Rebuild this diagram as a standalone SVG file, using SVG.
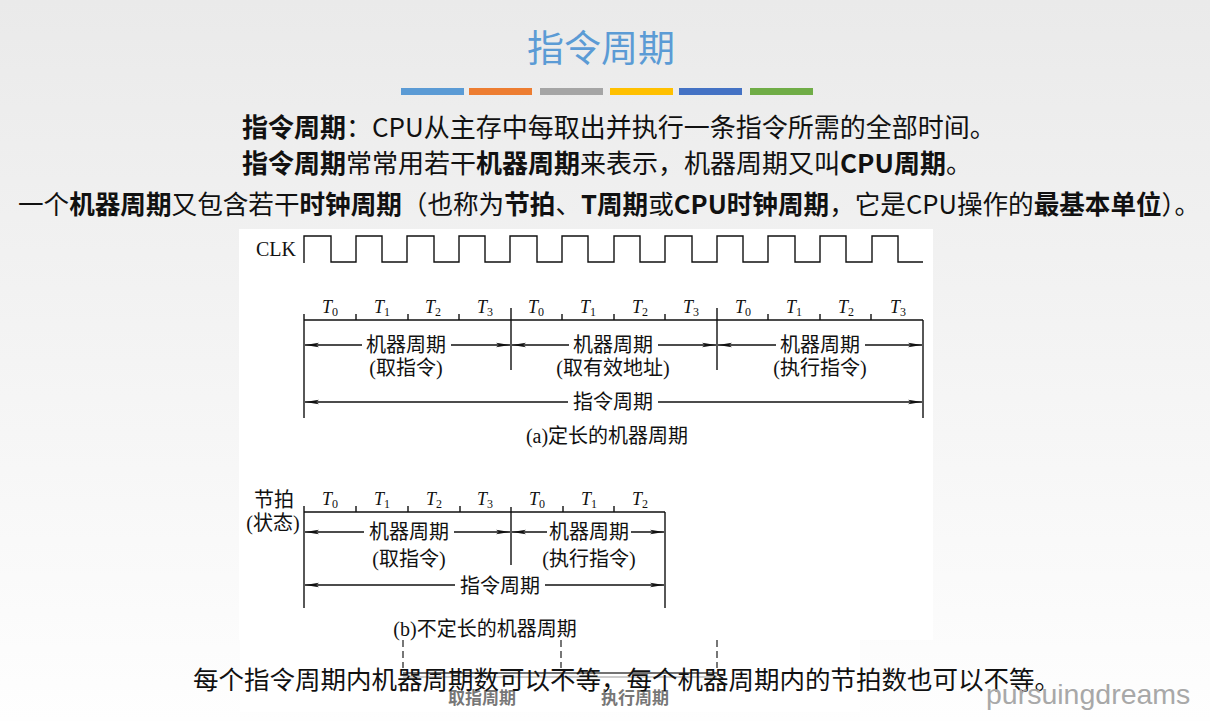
<svg xmlns="http://www.w3.org/2000/svg" width="1210" height="721" viewBox="0 0 1210 721">
<defs>
<linearGradient id="bg" x1="0" y1="0" x2="0" y2="1">
<stop offset="0" stop-color="#eaeaea"/>
<stop offset="1" stop-color="#fefefe"/>
</linearGradient>
<marker id="ah" viewBox="0 0 14 6" refX="14" refY="3" markerWidth="14" markerHeight="6" markerUnits="userSpaceOnUse" orient="auto">
<path d="M0,0.7 L14,3 L0,5.3 L3,3 z" fill="#111"/>
</marker>
<style>
.hd{font-family:"Noto Sans CJK SC","Noto Sans",sans-serif;font-size:26px;fill:#111}
.b{font-weight:bold}
.dg{font-family:"Liberation Serif","Noto Sans CJK SC",serif;font-size:20px;fill:#111}
.tl{font-family:"Liberation Serif",serif;font-size:18px;font-style:italic;fill:#111}
.sub{font-size:12px;font-style:normal}
.ln{stroke:#111;stroke-width:1.4;fill:none}
.ar{stroke:#111;stroke-width:1.3;fill:none;marker-end:url(#ah)}
.mid{text-anchor:middle}
</style>
</defs>
<rect width="1210" height="721" fill="url(#bg)"/>

<g id="title">
<text x="601" y="62" font-family="Noto Sans CJK SC, sans-serif" font-size="37" fill="#5b9bd5" text-anchor="middle">指令周期</text>
<rect x="401" y="88" width="63" height="7" fill="#5b9bd5"/>
<rect x="469" y="88" width="63" height="7" fill="#ed7d31"/>
<rect x="540" y="88" width="63" height="7" fill="#a5a5a5"/>
<rect x="610" y="88" width="63" height="7" fill="#ffc000"/>
<rect x="679" y="88" width="63" height="7" fill="#4472c4"/>
<rect x="750" y="88" width="63" height="7" fill="#70ad47"/>
</g>

<g id="intro">
<text class="hd" x="242" y="137"><tspan class="b">指令周期</tspan>：CPU从主存中每取出并执行一条指令所需的全部时间。</text>
<text class="hd" x="242" y="173"><tspan class="b">指令周期</tspan>常常用若干<tspan class="b">机器周期</tspan>来表示，机器周期又叫<tspan class="b">CPU周期</tspan>。</text>
<text class="hd" x="18" y="214" textLength="1182" lengthAdjust="spacingAndGlyphs">一个<tspan class="b">机器周期</tspan>又包含若干<tspan class="b">时钟周期</tspan>（也称为<tspan class="b">节拍</tspan>、<tspan class="b">T周期</tspan>或<tspan class="b">CPU时钟周期</tspan>，它是CPU操作的<tspan class="b">最基本单位</tspan>）。</text>
</g>

<rect x="239" y="229" width="694" height="411" fill="#ffffff"/>
<rect x="240" y="640" width="620" height="72" fill="#ffffff"/>

<g id="clk">
<text class="dg" x="256" y="256" font-size="18">CLK</text>
<path class="ln" stroke-width="2" d="M304,263 V236 H331 V262 H356 V236 H382 V262 H407 V236 H434 V262 H459 V236 H485 V262 H510 V236 H537 V262 H562 V236 H588 V262 H614 V236 H640 V262 H665 V236 H692 V262 H717 V236 H743 V262 H768 V236 H795 V262 H820 V236 H846 V262 H872 V236 H898 V262 H923"/>
</g>

<g id="fixed-cycle">
<g id="a-timeline">
<path class="ln" d="M304,320 H923 M304,314 V418 M923,320 V418 M511,308 V370 M717,308 V370 M356,314 V320 M408,314 V320 M459,314 V320 M562,314 V320 M614,314 V320 M665,314 V320 M768,314 V320 M820,314 V320 M871,314 V320"/>
<text class="tl mid" y="313"><tspan x="330">T</tspan><tspan class="sub" dy="3">0</tspan></text>
<text class="tl mid" y="313"><tspan x="382">T</tspan><tspan class="sub" dy="3">1</tspan></text>
<text class="tl mid" y="313"><tspan x="433">T</tspan><tspan class="sub" dy="3">2</tspan></text>
<text class="tl mid" y="313"><tspan x="485">T</tspan><tspan class="sub" dy="3">3</tspan></text>
<text class="tl mid" y="313"><tspan x="536">T</tspan><tspan class="sub" dy="3">0</tspan></text>
<text class="tl mid" y="313"><tspan x="588">T</tspan><tspan class="sub" dy="3">1</tspan></text>
<text class="tl mid" y="313"><tspan x="640">T</tspan><tspan class="sub" dy="3">2</tspan></text>
<text class="tl mid" y="313"><tspan x="691">T</tspan><tspan class="sub" dy="3">3</tspan></text>
<text class="tl mid" y="313"><tspan x="743">T</tspan><tspan class="sub" dy="3">0</tspan></text>
<text class="tl mid" y="313"><tspan x="794">T</tspan><tspan class="sub" dy="3">1</tspan></text>
<text class="tl mid" y="313"><tspan x="846">T</tspan><tspan class="sub" dy="3">2</tspan></text>
<text class="tl mid" y="313"><tspan x="898">T</tspan><tspan class="sub" dy="3">3</tspan></text>
</g>
<g id="a-mc1">
<text class="dg mid" x="406" y="352">机器周期</text>
<text class="dg mid" x="406" y="375">(取指令)</text>
</g>
<g id="a-mc2">
<text class="dg mid" x="613" y="352">机器周期</text>
<text class="dg mid" x="613" y="375">(取有效地址)</text>
</g>
<g id="a-mc3">
<text class="dg mid" x="820" y="352">机器周期</text>
<text class="dg mid" x="820" y="375">(执行指令)</text>
</g>
<g id="a-ic">
<text class="dg mid" x="613" y="409">指令周期</text>
</g>
<text class="dg mid" x="607" y="443" font-size="20.5">(a)定长的机器周期</text>
</g>

<g id="variable-cycle">
<g id="b-timeline">
<text class="dg mid" x="274" y="507">节拍</text>
<text class="dg mid" x="273" y="530">(状态)</text>
<path class="ln" d="M304,512 H665 M304,506 V608 M665,512 V608 M511,507 V565 M356,506 V512 M408,506 V512 M460,506 V512 M563,506 V512 M614,506 V512"/>
<text class="tl mid" y="505"><tspan x="330">T</tspan><tspan class="sub" dy="3">0</tspan></text>
<text class="tl mid" y="505"><tspan x="382">T</tspan><tspan class="sub" dy="3">1</tspan></text>
<text class="tl mid" y="505"><tspan x="434">T</tspan><tspan class="sub" dy="3">2</tspan></text>
<text class="tl mid" y="505"><tspan x="485">T</tspan><tspan class="sub" dy="3">3</tspan></text>
<text class="tl mid" y="505"><tspan x="537">T</tspan><tspan class="sub" dy="3">0</tspan></text>
<text class="tl mid" y="505"><tspan x="589">T</tspan><tspan class="sub" dy="3">1</tspan></text>
<text class="tl mid" y="505"><tspan x="640">T</tspan><tspan class="sub" dy="3">2</tspan></text>
</g>
<g id="b-mc1">
<text class="dg mid" x="409" y="539">机器周期</text>
<text class="dg mid" x="409" y="566">(取指令)</text>
</g>
<g id="b-mc2">
<text class="dg mid" x="589" y="539">机器周期</text>
<text class="dg mid" x="589" y="566">(执行指令)</text>
</g>
<g id="b-ic">
<text class="dg mid" x="500" y="593">指令周期</text>
</g>
<text class="dg mid" x="485" y="636" font-size="20.5">(b)不定长的机器周期</text>
</g>

<g id="connectors">
<line class="ar" x1="362" y1="345" x2="305" y2="345"/>
<line class="ar" x1="451" y1="345" x2="510" y2="345"/>
<line class="ar" x1="569" y1="345" x2="512" y2="345"/>
<line class="ar" x1="658" y1="345" x2="716" y2="345"/>
<line class="ar" x1="776" y1="345" x2="718" y2="345"/>
<line class="ar" x1="865" y1="345" x2="922" y2="345"/>
<line class="ar" x1="568" y1="402" x2="305" y2="402"/>
<line class="ar" x1="658" y1="402" x2="922" y2="402"/>
<line class="ar" x1="364" y1="532" x2="305" y2="532"/>
<line class="ar" x1="454" y1="532" x2="510" y2="532"/>
<line class="ar" x1="547" y1="532" x2="512" y2="532"/>
<line class="ar" x1="631" y1="532" x2="664" y2="532"/>
<line class="ar" x1="455" y1="585" x2="305" y2="585"/>
<line class="ar" x1="545" y1="585" x2="664" y2="585"/>
</g>

<g id="residue">
<path d="M403,640 V668 M561,640 V668 M717,640 V668" stroke="#555" stroke-width="1.6" stroke-dasharray="7,4" fill="none"/>
<path d="M403,673 H717" stroke="#444" stroke-width="1.4"/>
<path d="M403,677 H717" stroke="#999" stroke-width="1"/>
<text x="482" y="704" font-family="Noto Sans CJK SC, sans-serif" font-size="17" font-weight="bold" fill="#777" text-anchor="middle">取指周期</text>
<text x="635" y="704" font-family="Noto Sans CJK SC, sans-serif" font-size="17" font-weight="bold" fill="#777" text-anchor="middle">执行周期</text>
</g>

<g id="summary">
<text x="193" y="689" font-family="Noto Sans CJK SC, sans-serif" font-size="25.5" fill="#111">每个指令周期内机器周期数可以不等，每个机器周期内的节拍数也可以不等。</text>
</g>

<text x="986" y="704" font-family="Liberation Sans, sans-serif" font-size="28.5" fill="#a8a8a8">pursuingdreams</text>
</svg>
